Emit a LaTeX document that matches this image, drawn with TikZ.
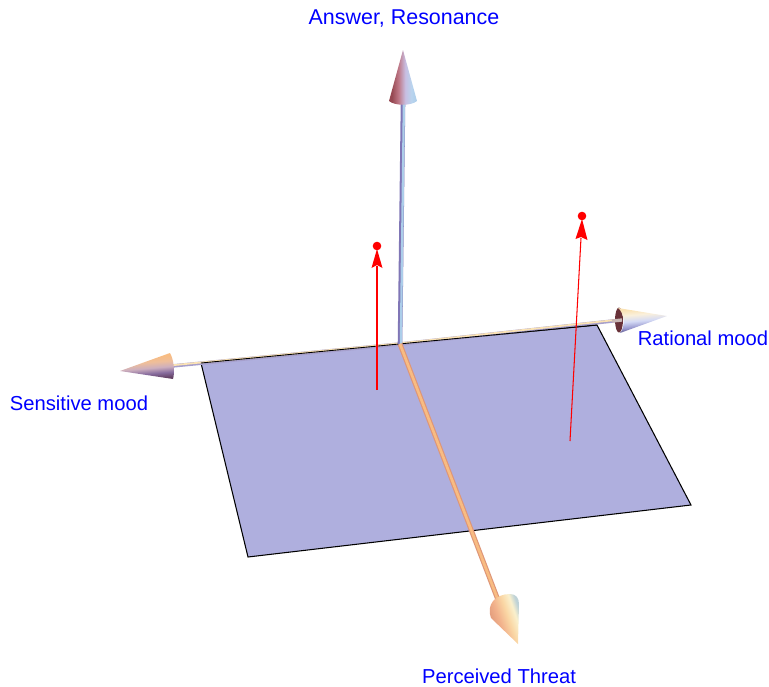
\documentclass[tikz,border=0pt]{standalone}
\usepackage{fontspec}
\setmainfont{Liberation Sans}
\definecolor{planeblue}{RGB}{175,175,222}
\definecolor{labelblue}{RGB}{0,0,255}
\definecolor{brick}{RGB}{150,72,82}
\definecolor{skyish}{RGB}{172,206,234}
\definecolor{lilac}{RGB}{128,118,182}
\definecolor{peach}{RGB}{248,188,130}
\definecolor{cream}{RGB}{250,226,180}
\definecolor{clay}{RGB}{222,150,120}
\definecolor{upa}{RGB}{190,120,135}
\definecolor{upb}{RGB}{200,190,225}
\definecolor{upc}{RGB}{185,212,238}
\definecolor{lefta}{RGB}{100,66,100}
\definecolor{leftb}{RGB}{135,108,158}
\definecolor{leftc}{RGB}{205,175,190}
\definecolor{leftd}{RGB}{238,190,155}
\definecolor{righta}{RGB}{70,58,110}
\definecolor{rightb}{RGB}{150,150,205}
\definecolor{rightc}{RGB}{212,218,245}
\definecolor{rightd}{RGB}{250,240,220}
\definecolor{downa}{RGB}{242,178,140}
\definecolor{downb}{RGB}{250,215,165}
\definecolor{downc}{RGB}{250,240,205}
\definecolor{downd}{RGB}{190,210,215}
\pgfdeclarehorizontalshading{upcone}{100bp}{color(0bp)=(brick); color(30bp)=(brick); color(42bp)=(upa); color(54bp)=(upb); color(65bp)=(upc); color(75bp)=(skyish); color(100bp)=(skyish)}
\pgfdeclareverticalshading{leftcone}{100bp}{color(0bp)=(lefta); color(27bp)=(lefta); color(36bp)=(leftb); color(46bp)=(leftc); color(56bp)=(leftd); color(66bp)=(peach); color(100bp)=(peach)}
\pgfdeclareverticalshading{rightcone}{100bp}{color(0bp)=(righta); color(27bp)=(righta); color(38bp)=(rightb); color(50bp)=(rightc); color(62bp)=(rightd); color(72bp)=(cream); color(100bp)=(cream)}
\pgfdeclarehorizontalshading{downcone}{100bp}{color(0bp)=(clay); color(32bp)=(clay); color(46bp)=(downa); color(58bp)=(downb); color(68bp)=(downc); color(75bp)=(downd); color(100bp)=(downd)}
\tikzset{
  axislabel/.style={text=labelblue, font=\fontsize{11.5}{13}\selectfont, inner sep=0pt},
  redline/.style={draw=red, line width=0.6pt},
  redhead/.style={fill=red, draw=none}
}
\begin{document}
\begin{tikzpicture}[x=0.02cm, y=-0.02cm, >=stealth]
    \useasboundingbox (0,0) rectangle (769,687);
    \coordinate (O) at (400,344);
    \coordinate (upEnd) at (403,104);
    \coordinate (leftEnd) at (172,366);
    \coordinate (rightEnd) at (622,320);
    \coordinate (downEnd) at (498,600);
    % plane
    \draw[fill=planeblue, line width=0.6pt] (201,363) -- (597,325) -- (691,505) -- (248,557) -- cycle;
    % left and right axes
    \draw[line width=2pt, lilac!70] (leftEnd) -- (O);
    \draw[line width=1pt, cream, transform canvas={yshift=0.4pt}] (leftEnd) -- (O);
    \draw[line width=2pt, lilac!70] (O) -- (rightEnd);
    \draw[line width=1pt, cream, transform canvas={yshift=0.4pt}] (O) -- (rightEnd);
    \draw[line width=0.5pt] (201,363) -- (597,325);
    % up axis
    \draw[line width=2.6pt, lilac] (O) -- (upEnd);
    \draw[line width=1.3pt, skyish, transform canvas={xshift=0.5pt}] (O) -- (upEnd);
    % down axis
    \draw[line width=2.8pt, clay] (O) -- (downEnd);
    \draw[line width=1.5pt, peach] (O) -- (downEnd);
    % cones
    \shade[shading=upcone] (403,50) -- (417,101) .. controls (411,106) and (395,106) .. (389,101) -- cycle;
    \shade[shading=leftcone, shading angle=5] (120,371) -- (170,353) .. controls (174,360) and (175,372) .. (173,379) -- cycle;
    \fill[brick!70!black] (619,320) ellipse (4 and 12.5);
    \shade[shading=rightcone, shading angle=5] (667,316) -- (618,308) .. controls (624,312) and (626,327) .. (620,333) -- cycle;
    \draw[line width=1.9pt, cream!60!lilac] (612,321) -- (rightEnd);
    \shade[shading=downcone, shading angle=19] (518,644) -- (491,618) .. controls (486,605) and (495,594) .. (510,594) .. controls (516,594) and (519,598) .. (519,604) -- cycle;
    % red arrows
    \coordinate (leftFoot) at (377,390);
    \coordinate (leftNeck) at (377,266);
    \coordinate (leftTop) at (377,246);
    \coordinate (rightFoot) at (570,441);
    \coordinate (rightNeck) at (581,238);
    \coordinate (rightTop) at (582,216);
    \draw[redline] (leftFoot) -- (leftNeck);
    \fill[redhead] (377,249) -- (382.5,268) -- (377,265) -- (371.5,268) -- cycle;
    \fill[red] (leftTop) circle (4.3);
    \draw[redline] (rightFoot) -- (rightNeck);
    \fill[redhead] (582,219) -- (587.5,240) -- (581,237) -- (575.5,239) -- cycle;
    \fill[red] (rightTop) circle (4.3);
    % labels
    \node[axislabel, font=\fontsize{12.2}{14}\selectfont] (answer) at (404,18) {Answer, Resonance};
    \node[axislabel] (sensitive) at (79,403) {Sensitive mood};
    \node[axislabel] (rational) at (703,338) {Rational mood};
    \node[axislabel] (threat) at (499,676) {Perceived Threat};
\end{tikzpicture}
\end{document}
